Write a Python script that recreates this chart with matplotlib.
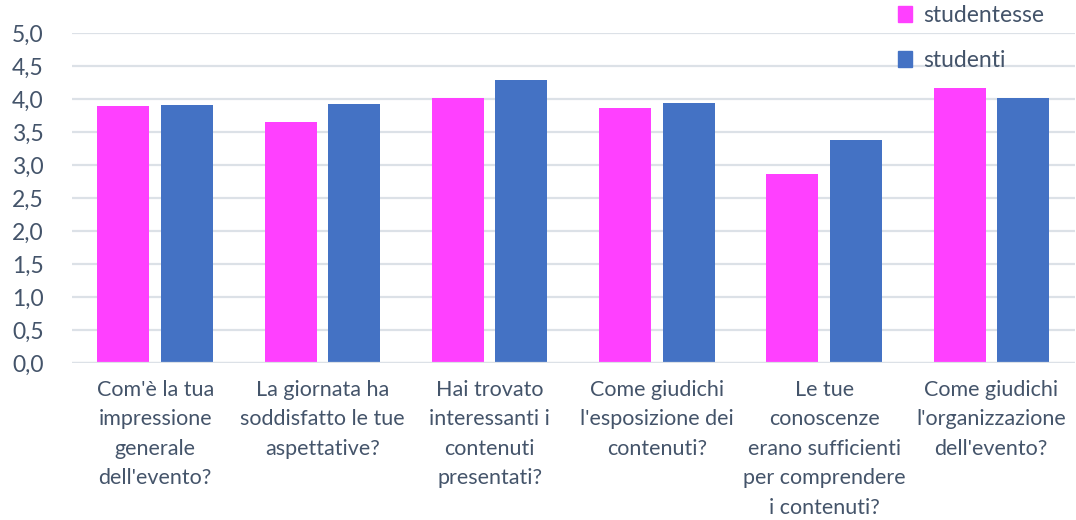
import matplotlib.pyplot as plt
import numpy as np
from matplotlib.patches import Patch

plt.rcParams['font.family'] = ['Lato', 'DejaVu Sans']

categories = [
    "Com'è la tua\nimpressione\ngenerale\ndell'evento?",
    "La giornata ha\nsoddisfatto le tue\naspettative?",
    "Hai trovato\ninteressanti i\ncontenuti\npresentati?",
    "Come giudichi\nl'esposizione dei\ncontenuti?",
    "Le tue\nconoscenze\nerano sufficienti\nper comprendere\ni contenuti?",
    "Come giudichi\nl'organizzazione\ndell'evento?",
]
studentesse = [3.89, 3.65, 4.02, 3.86, 2.86, 4.17]
studenti = [3.91, 3.92, 4.29, 3.94, 3.38, 4.02]
yticks = [0, 0.5, 1.0, 1.5, 2.0, 2.5, 3.0, 3.5, 4.0, 4.5, 5.0]

pink = "#FF40FF"
blue = "#4472C4"
txt = "#44546A"
grid = "#DCE1E7"

fig = plt.figure(figsize=(10.76, 5.2), dpi=100)
ax = fig.add_axes([0.0665, 0.302, 0.9325, 0.6345])

x = np.arange(len(categories))
w = 0.311
off = 0.19
ax.bar(x - off, studentesse, w, color=pink, zorder=3)
ax.bar(x + off, studenti, w, color=blue, zorder=3)

ax.set_xlim(-0.5, len(categories) - 0.5)
ax.set_ylim(0, 5)
ax.set_yticks(yticks)
ax.set_yticklabels([f"{v:.1f}".replace(".", ",") for v in yticks])
ax.set_xticks(x)
ax.set_xticklabels(categories, linespacing=1.6)

ax.tick_params(axis='y', length=0, pad=20, labelsize=16.5, labelcolor=txt)
ax.tick_params(axis='x', length=0, pad=12, labelsize=15.5, labelcolor=txt)
for s in ax.spines.values():
    s.set_visible(False)
ax.grid(axis='y', color=grid, linewidth=1.6, zorder=0)
ax.axhline(0, color=grid, linewidth=1.6, zorder=4)

handles = [Patch(color=pink), Patch(color=blue)]
leg = fig.legend(handles, ["studentesse", "studenti"], loc='upper left',
                 bbox_to_anchor=(0.815, 1.03), frameon=False, fontsize=16.5,
                 handlelength=0.65, handleheight=0.65, handletextpad=0.45,
                 labelspacing=1.05)
for t in leg.get_texts():
    t.set_color(txt)

fig.savefig("out.png", dpi=100)
